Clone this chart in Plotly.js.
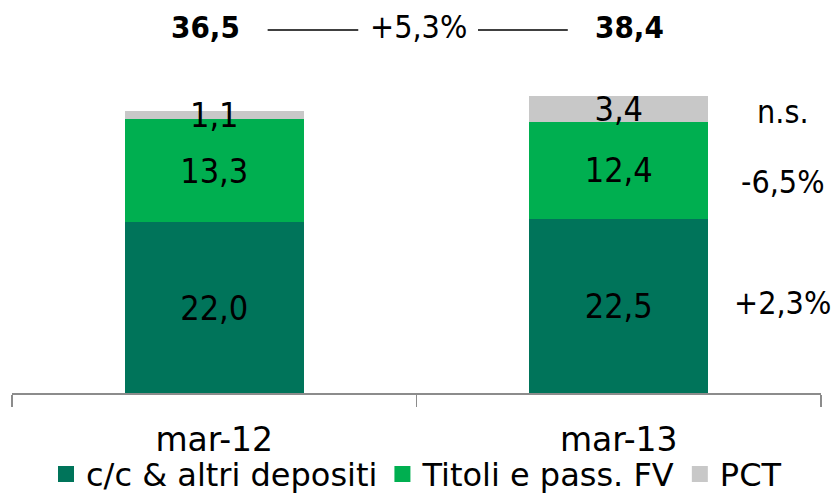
<!DOCTYPE html>
<html>
<head>
<meta charset="utf-8">
<script src="https://cdn.plot.ly/plotly-3.0.1.min.js"></script>
<style>html,body{margin:0;padding:0;background:#fff;}#chart{width:836px;height:495px;}</style>
</head>
<body>
<div id="chart"></div>
<script>
// ---- data ----
const categories = ['mar-12', 'mar-13'];
const seriesNames = ['c/c & altri depositi', 'Titoli e pass. FV', 'PCT'];
const depositi = [22.0, 22.5];
const titoli = [13.3, 12.4];
const pct = [1.1, 3.4];
const totals = [36.5, 38.4];
const totalGrowth = '+5,3%';
const seriesGrowth = ['+2,3%', '-6,5%', 'n.s.'];

const colors = ['#00745A', '#00AF50', '#C8C8C8'];
const numFont = 'DejaVu Sans Condensed, DejaVu Sans, sans-serif';
const txtFont = 'DejaVu Sans, sans-serif';

const seriesValues = [depositi, titoli, pct];
const traces = seriesValues.map((vals, i) => ({
  type: 'bar',
  name: seriesNames[i],
  x: categories,
  y: vals,
  showlegend: false,
  legendgroup: 'g' + i,
  marker: {color: colors[i], line: {width: 0}},
  texttemplate: '%{y:.1f}',
  textposition: 'inside',
  insidetextanchor: 'middle',
  constraintext: 'none',
  textfont: {family: numFont, size: 34, color: '#000'},
  hoverinfo: 'skip'
}));
// legend entries with larger square keys
seriesNames.forEach((n, i) => {
  traces.push({type: 'scatter', mode: 'markers', name: n, x: [null], y: [null],
    legendgroup: 'g' + i, marker: {symbol: 'square', size: 19, color: colors[i]}, hoverinfo: 'skip'});
});

const fmt = v => v.toFixed(1).replace('.', ',');

const growthY = [11.6, 27.2, 36.2];
const annotations = [
  {text: '<b>' + fmt(totals[0]) + '</b>', xref: 'paper', yref: 'paper', x: 0.2386, y: 0.956, showarrow: false,
   font: {family: numFont, size: 31, color: '#000'}, xanchor: 'center', yanchor: 'middle'},
  {text: '<b>' + fmt(totals[1]) + '</b>', xref: 'paper', yref: 'paper', x: 0.7627, y: 0.956, showarrow: false,
   font: {family: numFont, size: 31, color: '#000'}, xanchor: 'center', yanchor: 'middle'},
  {text: totalGrowth, xref: 'paper', yref: 'paper', x: 0.503, y: 0.956, showarrow: false,
   font: {family: numFont, size: 32, color: '#000'}, xanchor: 'center', yanchor: 'middle'}
];
seriesGrowth.forEach((g, i) => {
  annotations.push({text: g, xref: 'paper', yref: 'y', x: 0.953, y: growthY[i], showarrow: false,
    font: {family: numFont, size: 32, color: '#000'}, xanchor: 'center', yanchor: 'middle'});
});

const shapes = [
  {type: 'line', xref: 'paper', yref: 'paper', x0: 0.316, x1: 0.428, y0: 0.948, y1: 0.948, line: {color: '#000', width: 1.5}},
  {type: 'line', xref: 'paper', yref: 'paper', x0: 0.576, x1: 0.687, y0: 0.948, y1: 0.948, line: {color: '#000', width: 1.5}}
];

const layout = {
  width: 836, height: 495,
  margin: {l: 12, r: 15, t: 10, b: 102, autoexpand: false},
  paper_bgcolor: '#fff', plot_bgcolor: '#fff',
  separators: ',.',
  barmode: 'stack',
  bargap: 0.5575,
  showlegend: true,
  legend: {orientation: 'h', x: 0.5, xanchor: 'center', y: -0.212, yanchor: 'middle',
    bgcolor: 'rgba(0,0,0,0)', borderwidth: 0,
    itemsizing: 'trace', font: {family: txtFont, size: 32, color: '#000'}, traceorder: 'normal', itemclick: false},
  xaxis: {type: 'category', range: [-0.5, 1.5], showline: true, linecolor: '#8C8C8C', linewidth: 1.5,
    ticks: 'outside', tickson: 'boundaries', ticklen: 12, tickcolor: '#8C8C8C', tickwidth: 1.5,
    ticklabelstandoff: 17,
    tickfont: {family: txtFont, size: 33, color: '#000'}, showgrid: false, zeroline: false, fixedrange: true},
  yaxis: {range: [0, 49.4], visible: false, showgrid: false, zeroline: false, fixedrange: true},
  annotations: annotations,
  shapes: shapes
};

Plotly.newPlot('chart', traces, layout, {displayModeBar: false, staticPlot: true});
</script>
</body>
</html>
